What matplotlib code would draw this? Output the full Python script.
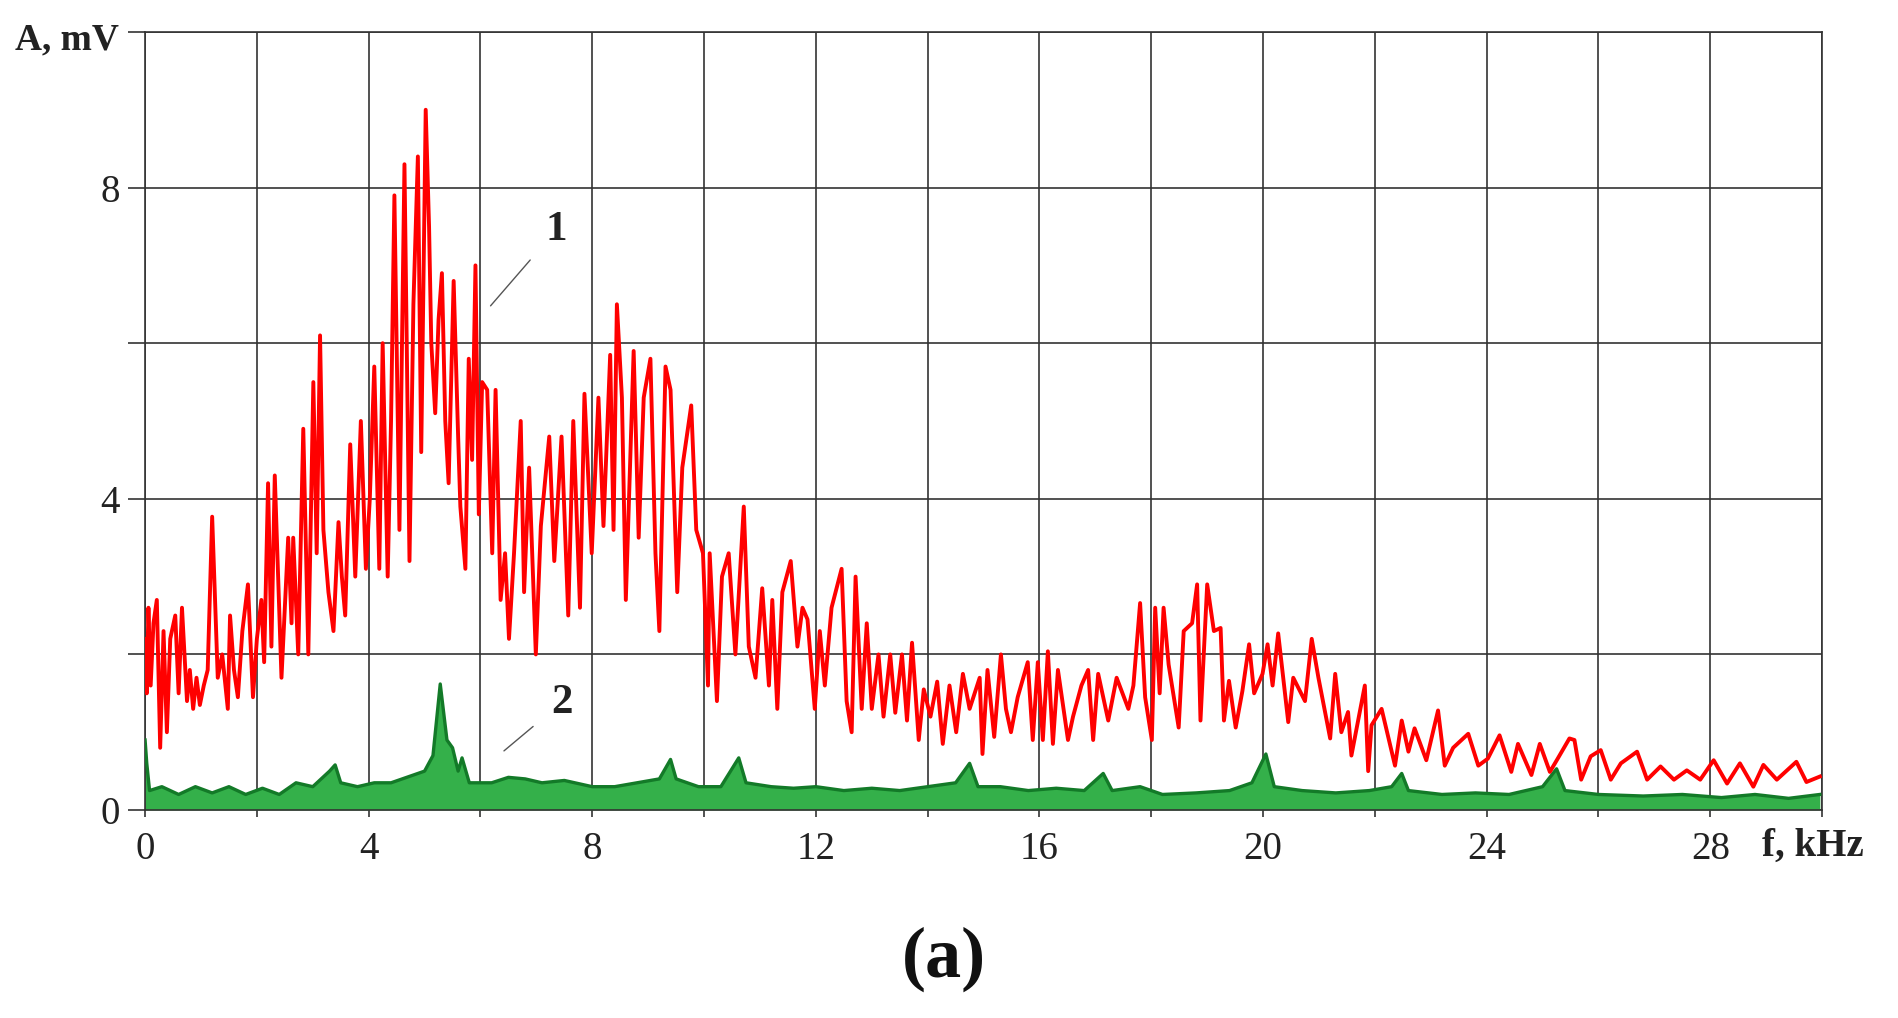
import matplotlib.pyplot as plt
from matplotlib.ticker import MultipleLocator, FuncFormatter

# curve 1 (red), frequency in kHz and amplitude in mV
f1 = [0.0, 0.03, 0.06, 0.1, 0.15, 0.21, 0.27, 0.33, 0.39, 0.45, 0.54, 0.6, 0.66, 0.75, 0.8,
      0.86, 0.92, 0.98, 1.05, 1.12, 1.2, 1.3, 1.38, 1.48, 1.52, 1.59, 1.66, 1.74, 1.84, 1.93,
      2.0, 2.08, 2.13, 2.2, 2.26, 2.32, 2.44, 2.5, 2.56, 2.62, 2.65, 2.74, 2.83, 2.92, 3.01,
      3.07, 3.13, 3.19, 3.28, 3.37, 3.46, 3.52, 3.58, 3.67, 3.76, 3.86, 3.95, 4.02, 4.1, 4.19,
      4.25, 4.34, 4.4, 4.46, 4.55, 4.64, 4.73, 4.8, 4.88, 4.94, 5.02,
      5.08, 5.12, 5.19, 5.25, 5.31, 5.37, 5.43, 5.52, 5.6, 5.64, 5.73, 5.79, 5.85, 5.91, 5.97,
      6.03, 6.12, 6.21, 6.27, 6.36, 6.44, 6.51, 6.6, 6.72, 6.78, 6.87, 6.99, 7.08, 7.23, 7.32,
      7.45, 7.57, 7.66, 7.78, 7.86, 7.99, 8.11, 8.2, 8.32, 8.38, 8.44, 8.53, 8.6, 8.74, 8.83,
      8.92, 9.04, 9.13, 9.2, 9.31, 9.4, 9.52, 9.61, 9.77, 9.86, 9.98, 10.07,
      10.1, 10.23, 10.32, 10.44, 10.56, 10.71, 10.8, 10.92, 11.04, 11.16, 11.22, 11.31, 11.4,
      11.55, 11.67, 11.76, 11.85, 11.98, 12.07, 12.16, 12.28, 12.46, 12.55, 12.64, 12.71,
      12.82, 12.91, 13.0, 13.12, 13.21, 13.33, 13.42, 13.54, 13.63, 13.72, 13.84, 13.93,
      14.05, 14.17, 14.27, 14.39, 14.51, 14.63, 14.75, 14.93, 14.98,
      15.07, 15.19, 15.31, 15.4, 15.49, 15.61, 15.79, 15.88, 15.97, 16.06, 16.15, 16.24,
      16.33, 16.51, 16.6, 16.75, 16.87, 16.96, 17.05, 17.23, 17.38, 17.59, 17.68, 17.8,
      17.89, 18.01, 18.07, 18.15, 18.22, 18.31, 18.49, 18.58, 18.73, 18.82, 18.88, 19.0,
      19.12, 19.24, 19.3, 19.39, 19.51, 19.63, 19.75, 19.84, 19.99, 20.08, 20.17,
      20.27, 20.45, 20.54, 20.75, 20.87, 20.99, 21.2, 21.29, 21.4, 21.52, 21.58, 21.82,
      21.88, 21.94, 22.12, 22.36, 22.48, 22.6, 22.71, 22.92, 23.13, 23.25, 23.4, 23.67,
      23.85, 24.02, 24.23, 24.44, 24.56, 24.8, 24.95, 25.13, 25.27, 25.48,
      25.57, 25.69, 25.86, 26.04, 26.22, 26.4, 26.69, 26.87, 27.11, 27.35, 27.58, 27.82,
      28.06, 28.3, 28.53, 28.77, 28.95, 29.19, 29.54, 29.72, 29.96]
a1 = [2.2, 1.5, 2.6, 1.6, 2.4, 2.7, 0.8, 2.3, 1.0, 2.2, 2.5, 1.5, 2.6, 1.4, 1.8,
      1.3, 1.7, 1.35, 1.6, 1.8, 3.77, 1.7, 2.0, 1.3, 2.5, 1.8, 1.45, 2.3, 2.9, 1.45,
      2.2, 2.7, 1.9, 4.2, 2.1, 4.3, 1.7, 2.6, 3.5, 2.4, 3.5, 2.0, 4.9, 2.0, 5.5,
      3.3, 6.1, 3.6, 2.8, 2.3, 3.7, 3.0, 2.5, 4.7, 3.0, 5.0, 3.1, 4.0, 5.7, 3.1,
      6.0, 3.0, 5.0, 7.9, 3.6, 8.3, 3.2, 6.5, 8.4, 4.6, 9.0,
      7.5, 6.0, 5.1, 6.3, 6.9, 5.0, 4.2, 6.8, 4.8, 3.9, 3.1, 5.8, 4.5, 7.0, 3.8,
      5.5, 5.4, 3.3, 5.4, 2.7, 3.3, 2.2, 3.3, 5.0, 2.8, 4.4, 2.0, 3.65, 4.8, 3.2,
      4.8, 2.5, 5.0, 2.6, 5.35, 3.3, 5.3, 3.65, 5.85, 3.6, 6.5, 5.3, 2.7, 5.9, 3.5,
      5.3, 5.8, 3.3, 2.3, 5.7, 5.4, 2.8, 4.4, 5.2, 3.6, 3.3, 1.6,
      3.3, 1.4, 3.0, 3.3, 2.0, 3.9, 2.1, 1.7, 2.85, 1.6, 2.7, 1.3, 2.8,
      3.2, 2.1, 2.6, 2.45, 1.3, 2.3, 1.6, 2.6, 3.1, 1.4, 1.0, 3.0,
      1.3, 2.4, 1.3, 2.0, 1.2, 2.0, 1.25, 2.0, 1.15, 2.15, 0.9, 1.55,
      1.2, 1.65, 0.85, 1.6, 1.0, 1.75, 1.3, 1.7, 0.72,
      1.8, 0.94, 2.0, 1.3, 1.0, 1.45, 1.9, 0.9, 1.9, 0.9, 2.04, 0.85,
      1.8, 0.9, 1.2, 1.6, 1.8, 0.9, 1.75, 1.15, 1.7, 1.3, 1.6, 2.66,
      1.45, 0.9, 2.6, 1.5, 2.6, 1.87, 1.06, 2.3, 2.4, 2.9, 1.15, 2.9,
      2.3, 2.34, 1.15, 1.66, 1.06, 1.53, 2.13, 1.5, 1.75, 2.13, 1.6,
      2.27, 1.13, 1.7, 1.4, 2.2, 1.7, 0.92, 1.75, 1.0, 1.26, 0.7, 1.6,
      0.5, 1.09, 1.3, 0.57, 1.15, 0.75, 1.05, 0.64, 1.28, 0.57, 0.8, 0.98,
      0.57, 0.66, 0.96, 0.49, 0.85, 0.45, 0.85, 0.49, 0.66, 0.92,
      0.9, 0.39, 0.69, 0.77, 0.39, 0.6, 0.75, 0.39, 0.56, 0.39, 0.51, 0.39,
      0.64, 0.34, 0.6, 0.3, 0.58, 0.39, 0.62, 0.36, 0.43]

# curve 2 (green)
f2 = [0.0, 0.03, 0.08, 0.3, 0.6, 0.9, 1.2, 1.5, 1.8, 2.1, 2.4, 2.7, 3.0, 3.3, 3.4, 3.5,
      3.8, 4.1, 4.4, 4.8, 5.0, 5.15, 5.28, 5.4, 5.5, 5.6, 5.67, 5.8, 6.2, 6.5, 6.8, 7.1,
      7.5, 8.0, 8.4, 8.8, 9.2, 9.4, 9.5, 9.9, 10.3, 10.62, 10.75, 11.2, 11.6, 12.0, 12.5,
      13.0, 13.5, 14.0, 14.5, 14.75, 14.9, 15.3, 15.8, 16.3, 16.8, 17.14, 17.3, 17.8,
      18.2, 18.8, 19.4, 19.8, 20.05, 20.2, 20.7, 21.3, 21.9, 22.3, 22.48, 22.6, 23.2,
      23.8, 24.4, 25.0, 25.25, 25.4, 26.0, 26.8, 27.5, 28.2, 28.8, 29.4, 29.96]
a2 = [0.9, 0.6, 0.25, 0.3, 0.2, 0.3, 0.22, 0.3, 0.2, 0.28, 0.2, 0.35, 0.3, 0.5, 0.58, 0.35,
      0.3, 0.35, 0.35, 0.45, 0.5, 0.7, 1.62, 0.9, 0.8, 0.5, 0.67, 0.35, 0.35, 0.42, 0.4, 0.35,
      0.38, 0.3, 0.3, 0.35, 0.4, 0.65, 0.4, 0.3, 0.3, 0.67, 0.35, 0.3, 0.28, 0.3, 0.25,
      0.28, 0.25, 0.3, 0.35, 0.6, 0.3, 0.3, 0.25, 0.28, 0.25, 0.47, 0.25, 0.3,
      0.2, 0.22, 0.25, 0.35, 0.72, 0.3, 0.25, 0.22, 0.25, 0.3, 0.47, 0.25, 0.2,
      0.22, 0.2, 0.3, 0.53, 0.25, 0.2, 0.18, 0.2, 0.16, 0.2, 0.15, 0.2]

serif = ['Liberation Serif', 'DejaVu Serif']

fig = plt.figure(figsize=(18.99, 10.18), dpi=100)
ax = fig.add_axes([0.0764, 0.2043, 0.8831, 0.7643])

ax.fill_between(f2, 0, a2, color='#34b04a', lw=0, zorder=2)
ax.plot(f2, a2, color='#137a28', lw=2.4, zorder=3)
ax.plot(f1, a1, color='#ff0000', lw=2.8, zorder=4)

ax.set_xlim(0, 30)
ax.set_ylim(0, 10)
ax.xaxis.set_major_locator(MultipleLocator(2))
ax.yaxis.set_major_locator(MultipleLocator(2))
every4 = FuncFormatter(lambda v, p: f"{v:.0f}" if round(v) % 4 == 0 else "")
ax.xaxis.set_major_formatter(every4)
ax.yaxis.set_major_formatter(every4)
ax.grid(True, color='#333333', lw=1.2, zorder=1)
ax.set_axisbelow(True)
for s in ax.spines.values():
    s.set_color('#333333')
    s.set_linewidth(1.2)
ax.tick_params(axis='x', length=5, width=1.2, color='#333333', pad=10, labelsize=28)
ax.tick_params(axis='y', length=12, width=1.2, color='#333333', pad=6, labelsize=28)
for lbl in ax.get_xticklabels() + ax.get_yticklabels():
    lbl.set_family(serif)
    lbl.set_color('#222222')

# axis names
fig.text(15 / 1899, 1 - 40 / 1018, 'A, mV', family=serif, fontsize=27,
         fontweight='bold', va='center', ha='left', color='#222222')
fig.text(1762 / 1899, 1 - 846 / 1018, 'f, kHz', family=serif, fontsize=28,
         fontweight='bold', va='center', ha='left', color='#222222')

# curve labels with leader lines
ax.annotate('1', xy=(6.18, 6.48), xytext=(7.36, 7.46), family=serif, fontsize=31,
            fontweight='bold', ha='center', va='center', color='#222222',
            arrowprops=dict(arrowstyle='-', color='#555555', lw=1.0, shrinkA=14, shrinkB=0))
ax.annotate('2', xy=(6.42, 0.76), xytext=(7.45, 1.38), family=serif, fontsize=31,
            fontweight='bold', ha='center', va='center', color='#222222',
            arrowprops=dict(arrowstyle='-', color='#555555', lw=1.0, shrinkA=14, shrinkB=0))

fig.text(0.497, 0.058, '(a)', family=serif, fontsize=52, fontweight='bold',
         ha='center', va='center', color='#111111')

fig.savefig('out.png', dpi=100)
